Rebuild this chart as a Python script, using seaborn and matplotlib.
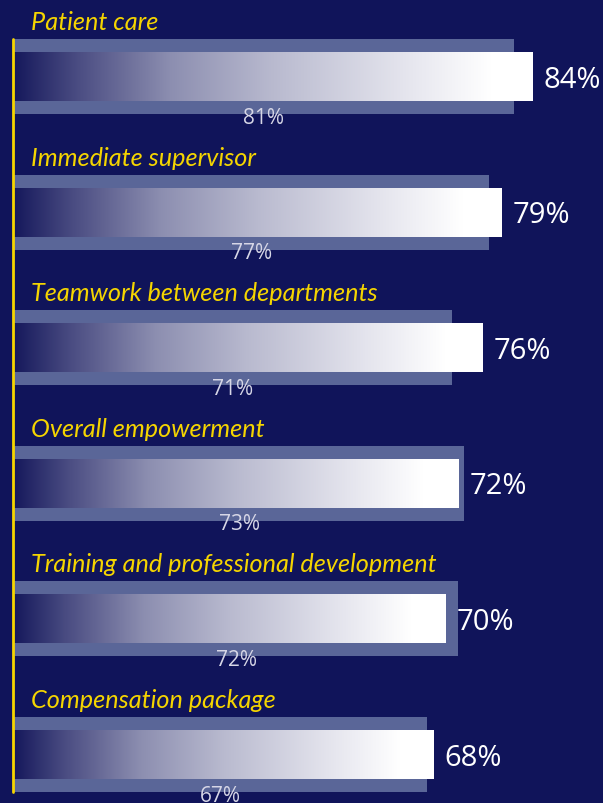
import numpy as np
import pandas as pd
import matplotlib
matplotlib.use("Agg")
import matplotlib.pyplot as plt
import seaborn as sns
from matplotlib.colors import LinearSegmentedColormap

# Data
categories = ["Patient care", "Immediate supervisor", "Teamwork between departments",
              "Overall empowerment", "Training and professional development",
              "Compensation package"]
scores = [84, 79, 76, 72, 70, 68]
benchmark = [81, 77, 71, 73, 72, 67]

df = pd.DataFrame({"category": categories, "score": scores, "benchmark": benchmark})

navy = "#10145a"
slate = "#5a6698"
yellow = "#f5d500"

sns.set_theme(style="white")
plt.rcParams["font.family"] = ["Open Sans", "DejaVu Sans"]

fig = plt.figure(figsize=(6.03, 8.04), dpi=100, facecolor=navy)
ax = fig.add_axes([0, 0, 1, 1])
ax.set_facecolor(navy)

# benchmark (background) bars
sns.barplot(data=df, x="benchmark", y="category", orient="h", color=slate,
            width=0.553, saturation=1, linewidth=0, ax=ax)
n_bg = len(ax.patches)
# score bars (gradient filled)
sns.barplot(data=df, x="score", y="category", orient="h", color="white",
            width=0.361, saturation=1, linewidth=0, ax=ax)

cmap = LinearSegmentedColormap.from_list(
    "grad", [(0, "#16195c"), (0.12, "#4a4c82"), (0.3, "#8c8eb0"),
             (0.5, "#b9bacf"), (0.75, "#e4e4ed"), (0.92, "#ffffff"), (1, "#ffffff")])
grad = np.linspace(0, 1, 256).reshape(1, -1)
for p in ax.patches[n_bg:]:
    x0, y0 = p.get_x(), p.get_y()
    w, h = p.get_width(), p.get_height()
    im = ax.imshow(grad, cmap=cmap, aspect="auto", extent=(x0, x0 + w, y0 + h, y0),
                   zorder=p.get_zorder() + 0.1, interpolation="bilinear")
    im.set_clip_path(p)

for i, row in df.iterrows():
    ax.text(2.76, i - 0.35, row["category"], color=yellow, fontsize=18.2,
            fontstyle="italic", family=["Lato", "DejaVu Sans"], ha="left",
            va="baseline")
    ax.text(row["score"] + 1.8, i + 0.02, f"{row['score']}%", color="white",
            fontsize=21, ha="left", va="center")
    ax.text(row["benchmark"] / 2, i + 0.3, f"{row['benchmark']}%", color="#d6d6e6",
            fontsize=15, ha="center", va="center", zorder=5)

ax.plot([-0.2, -0.2], [-0.2765, 5.2765], color=yellow, lw=2, zorder=6)

ax.set_xlim(-14 / 6.17, 589 / 6.17)
ax.set_ylim(5.358, -0.5715)
ax.axis("off")

fig.savefig("out.png", dpi=100, facecolor=navy)
